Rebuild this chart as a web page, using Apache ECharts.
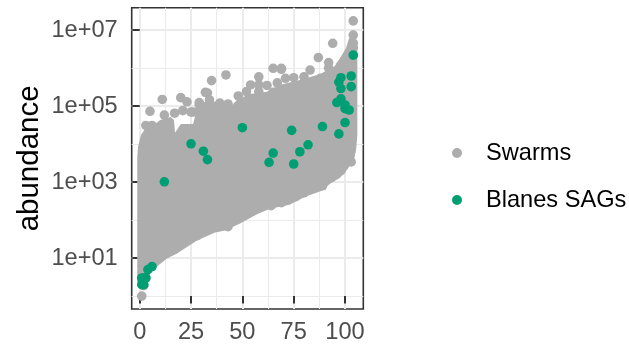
<!DOCTYPE html>
<html><head><meta charset="utf-8">
<style>html,body{margin:0;padding:0;background:#fff}#c{width:629px;height:344px}</style>
<script src="https://cdn.jsdelivr.net/npm/echarts@6/dist/echarts.min.js"></script>
</head><body><div id="c"></div>
<script>
const seriesNames = ['Swarms', 'Blanes SAGs'];
const xTicks = [0, 25, 50, 75, 100];
const xMinorTicks = [12.5, 37.5, 62.5, 87.5];
const yTicks = [10, 1000, 100000, 10000000];
const yTickLabels = ['1e+01', '1e+03', '1e+05', '1e+07'];
const yMinorTicks = [1, 100, 10000, 1000000];

// Outline of the solid overplotted mass of swarms
const massX = [-1.2,-1.2,-0.8,0.6,3,7.5,10,15,16.7,17.2,20,26,27.4,29.4,33,39,44,47.4,53.7,62,68,78,88,95,97.6,100.5,102,106,106,106,105.4,104.4,101,97.6,92.7,88.8,80.5,73,63.5,57.6,48.9,41.6,36.7,27.9,18.2,13.3,8.4,5,2.6,0.6];
const massY = [2.4,4400,8500,17500,27000,34000,43000,52000,43000,20000,34000,34000,66000,107000,145000,120000,95000,145000,210000,240000,360000,490000,700000,1130000,1840000,3400000,6200000,5500000,1600000,17500,7100,3900,2100,1300,910,590,410,255,200,148,81,53,47,29,13.2,9.8,6,3.9,2.15,1.5];

// Individually visible swarms
const swarmX = [104,104,104,104,104,94,87,92,92,83,98,69,71,75,80,88,65,69,67,65,62,58,58,58,54,52,53,48,43,39,42,35,32,33,29,21,20,23,11,5,12,17,3,6,25,29,26,29,34,103,98,93,89,80,76,72,69,64,43,28,1,2,3];
const swarmY = [17500000,7400000,4500000,3400000,2200000,4500000,1900000,1400000,1000000,890000,1200000,930000,540000,560000,590000,540000,990000,990000,410000,230000,350000,240000,360000,590000,360000,240000,145000,185000,114000,120000,660000,470000,230000,220000,124000,76000,167000,130000,150000,73000,58000,65000,31000,31000,70000,108000,70000,70000,145000,3400,2000,1300,800,525,414,390,288,240,67,39,1,1.9,3];

const sagX = [104,98,103,97,98,103,98,96,100,100,102,100,89,97,50,74,82,78,65,63,75,31,33,25,12,6,4,3,2,1,1,2];
const sagY = [2200000,560000,620000,430000,290000,325000,155000,124000,107000,86000,79000,37000,29000,18600,27000,23000,9600,6300,5800,3300,3000,6500,3900,10200,1020,6,5,3,3,3,2,2];

const GRAY = '#adadad', GREEN = '#009E73', INK = '#4d4d4d', FRAME = '#333333', GRID = '#ebebeb';
const lg = v => Math.log10(v);
const toPairs = (xs, ys) => xs.map((x, i) => [x, lg(ys[i])]);
const xMin = -3.9, xMax = 108.9, yMin = -0.339, yMax = 7.59;
const FONT = '"Liberation Sans", Arial, sans-serif';

const chart = echarts.init(document.getElementById('c'), null, {renderer: 'canvas'});
chart.setOption({
  animation: false,
  backgroundColor: '#fff',
  grid: {left: 131.7, top: 7.7, width: 231.6, height: 302, show: true, borderColor: FRAME, borderWidth: 1.6, backgroundColor: 'transparent'},
  legend: {
    orient: 'vertical', left: 447, top: 136, itemWidth: 10, itemHeight: 10, itemGap: 23,
    selectedMode: false,
    textStyle: {fontFamily: FONT, fontSize: 23.6, color: '#000', padding: [0, 0, 0, 19]},
    data: [
      {name: seriesNames[0], icon: 'circle', itemStyle: {color: GRAY}},
      {name: seriesNames[1], icon: 'circle', itemStyle: {color: GREEN}}
    ]
  },
  xAxis: [
    {type: 'value', min: xMin, max: xMax, position: 'bottom',
      axisLine: {show: false},
      axisTick: {show: true, length: 7.5, lineStyle: {color: FRAME, width: 2}, customValues: xTicks},
      axisLabel: {customValues: xTicks, color: INK, fontFamily: FONT, fontSize: 23.6, margin: 11},
      splitLine: {show: true, lineStyle: {color: GRID, width: 2}}},
    {type: 'value', min: xMin, max: xMax, position: 'bottom',
      axisLine: {show: false},
      axisTick: {show: false, customValues: xMinorTicks},
      axisLabel: {show: false, customValues: xMinorTicks},
      splitLine: {show: true, lineStyle: {color: GRID, width: 1}}}
  ],
  yAxis: [
    {type: 'value', min: yMin, max: yMax, position: 'left',
      name: 'abundance', nameLocation: 'middle', nameRotate: 90, nameGap: 87,
      nameTextStyle: {fontFamily: FONT, fontSize: 29.5, color: '#000'},
      axisLine: {show: false},
      axisTick: {show: true, length: 7.5, lineStyle: {color: FRAME, width: 2}, customValues: yTicks.map(lg)},
      axisLabel: {customValues: yTicks.map(lg), color: INK, fontFamily: FONT, fontSize: 23.6, margin: 14,
        formatter: v => yTickLabels[yTicks.map(lg).findIndex(t => Math.abs(t - v) < 1e-6)]},
      splitLine: {show: true, lineStyle: {color: GRID, width: 2}}},
    {type: 'value', min: yMin, max: yMax, position: 'left',
      axisLine: {show: false},
      axisTick: {show: false, customValues: yMinorTicks.map(lg)},
      axisLabel: {show: false, customValues: yMinorTicks.map(lg)},
      splitLine: {show: true, lineStyle: {color: GRID, width: 1}}}
  ],
  series: [
    {name: seriesNames[0], type: 'scatter', z: 3, silent: true, symbolSize: 9.6, itemStyle: {color: GRAY, opacity: 1}, data: toPairs(swarmX, swarmY)},
    {name: 'mass', type: 'custom', z: 2, silent: true, coordinateSystem: 'cartesian2d', clip: true,
      data: toPairs(massX, massY),
      renderItem: (params, api) => {
        if (params.dataIndex !== 0) return null;
        const pts = toPairs(massX, massY).map(p => api.coord(p));
        return {type: 'polygon', shape: {points: pts}, style: {fill: GRAY, stroke: null}};
      }},
    {name: seriesNames[1], type: 'scatter', z: 4, silent: true, symbolSize: 9.6, itemStyle: {color: GREEN, opacity: 1}, data: toPairs(sagX, sagY)}
  ]
});
</script></body></html>
